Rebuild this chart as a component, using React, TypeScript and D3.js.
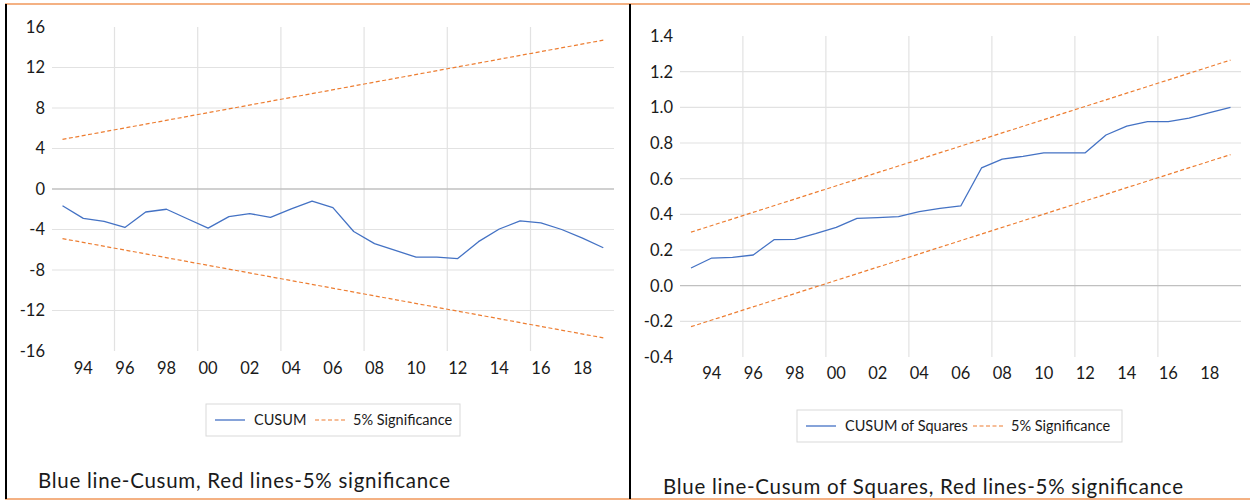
import React from "react";
import * as d3 from "d3";

// ---------- data ----------
const years = [
  1993, 1994, 1995, 1996, 1997, 1998, 1999, 2000, 2001, 2002, 2003, 2004, 2005,
  2006, 2007, 2008, 2009, 2010, 2011, 2012, 2013, 2014, 2015, 2016, 2017, 2018, 2019,
];
const yearLabels = [1994, 1996, 1998, 2000, 2002, 2004, 2006, 2008, 2010, 2012, 2014, 2016, 2018];

const cusum = [
  -1.65, -2.9, -3.2, -3.8, -2.27, -2.0, -2.94, -3.87, -2.73, -2.43, -2.8, -1.97, -1.2,
  -1.84, -4.2, -5.4, -6.07, -6.73, -6.73, -6.87, -5.2, -3.95, -3.15, -3.35, -4.0, -4.85, -5.8,
];
// 5% significance bounds (straight lines, start/end)
const cusumUpper: [number, number][] = [[1993, 4.9], [2019, 14.7]];
const cusumLower: [number, number][] = [[1993, -4.9], [2019, -14.7]];
const cusumTicks = [16, 12, 8, 4, 0, -4, -8, -12, -16];

const cusumSq = [
  0.099, 0.155, 0.159, 0.172, 0.258, 0.26, 0.292, 0.327, 0.377, 0.381, 0.387, 0.415, 0.433,
  0.447, 0.66, 0.71, 0.725, 0.745, 0.745, 0.745, 0.845, 0.895, 0.92, 0.92, 0.94, 0.97, 1.0,
];
const sqUpper: [number, number][] = [[1993, 0.3], [2019, 1.265]];
const sqLower: [number, number][] = [[1993, -0.23], [2019, 0.735]];
const sqTicks = [1.4, 1.2, 1.0, 0.8, 0.6, 0.4, 0.2, 0.0, -0.2, -0.4];

const gridYears = [1995.5, 1999.5, 2003.5, 2007.5, 2011.5, 2015.5];

// ---------- styles ----------
const FONT = "Lato, 'Open Sans', sans-serif";
const BLUE = "#4472C4";
const ORANGE = "#ED7D31";
const GRID = "#e2e2e2";
const ZERO = "#c0c0c0";
const TEXT = "#1a1a1a";

const locale = d3.formatLocale({
  decimal: ".",
  thousands: ",",
  grouping: [3],
  currency: ["", ""],
  minus: "-",
});

type PanelProps = {
  values: number[];
  upper: [number, number][];
  lower: [number, number][];
  ticks: number[];
  yDomain: [number, number];
  xRange: [number, number];
  yRange: [number, number];
  plotLeft: number;
  plotRight: number;
  labelRight: number;
  xLabelY: number;
  fmt: (v: number) => string;
  legend: { x: number; y: number; w: number; h: number; label: string; gap: number };
  caption: { x: number; y: number; text: string; len: number };
};

function Panel(p: PanelProps) {
  const x = d3.scaleLinear().domain([1993, 2019]).range(p.xRange);
  const y = d3.scaleLinear().domain(p.yDomain).range(p.yRange);
  const line = d3
    .line<[number, number]>()
    .x((d) => x(d[0]))
    .y((d) => y(d[1]));
  const series: [number, number][] = years.map((yr, i) => [yr, p.values[i]]);
  const top = y(p.yDomain[1]);
  const bottom = y(p.yDomain[0]);
  const lg = p.legend;
  const cy = lg.y + lg.h / 2;
  return (
    <g>
      {/* horizontal gridlines */}
      {p.ticks
        .filter((t) => t !== p.yDomain[0] && t !== p.yDomain[1] && t !== 0)
        .map((t) => (
          <line key={"h" + t} x1={p.plotLeft} x2={p.plotRight} y1={y(t)} y2={y(t)} stroke={GRID} strokeWidth={1.2} />
        ))}
      {/* vertical gridlines */}
      {gridYears.map((g) => (
        <line key={"v" + g} x1={x(g)} x2={x(g)} y1={top} y2={bottom} stroke={GRID} strokeWidth={1.2} />
      ))}
      {/* zero line */}
      <line x1={p.plotLeft} x2={p.plotRight} y1={y(0)} y2={y(0)} stroke={ZERO} strokeWidth={1.3} />
      {/* y tick labels */}
      {p.ticks.map((t) => (
        <text key={"yt" + t} x={p.labelRight} y={y(t)} dy="0.36em" textAnchor="end" fontSize={16.5} fill={TEXT} fontFamily={FONT}>
          {p.fmt(t)}
        </text>
      ))}
      {/* x tick labels */}
      {yearLabels.map((yr) => (
        <text key={"xt" + yr} x={x(yr)} y={p.xLabelY} dy="0.36em" textAnchor="middle" fontSize={16.5} fill={TEXT} fontFamily={FONT}>
          {String(yr).slice(2)}
        </text>
      ))}
      {/* bounds */}
      <path d={line(p.upper) || ""} fill="none" stroke={ORANGE} strokeWidth={1.2} strokeDasharray="4 2.5" />
      <path d={line(p.lower) || ""} fill="none" stroke={ORANGE} strokeWidth={1.2} strokeDasharray="4 2.5" />
      {/* series */}
      <path d={line(series) || ""} fill="none" stroke={BLUE} strokeWidth={1.3} strokeLinejoin="round" />
      {/* legend */}
      <rect x={lg.x} y={lg.y} width={lg.w} height={lg.h} fill="#fff" stroke="#d9d9d9" strokeWidth={1} />
      <line x1={lg.x + 9} x2={lg.x + 39} y1={cy} y2={cy} stroke={BLUE} strokeWidth={1.3} />
      <text x={lg.x + 48} y={cy} dy="0.35em" fontSize={14.5} fill={TEXT} fontFamily={FONT}>
        {lg.label}
      </text>
      <line x1={lg.x + lg.gap} x2={lg.x + lg.gap + 31} y1={cy} y2={cy} stroke={ORANGE} strokeWidth={1.2} strokeDasharray="4 2.5" />
      <text x={lg.x + lg.gap + 38} y={cy} dy="0.35em" fontSize={14.5} fill={TEXT} fontFamily={FONT}>
        5% Significance
      </text>
      {/* caption */}
      <text
        x={p.caption.x}
        y={p.caption.y}
        fontSize={20.5}
        fill={TEXT}
        fontFamily={FONT}
        textLength={p.caption.len}
        lengthAdjust="spacing"
      >
        {p.caption.text}
      </text>
    </g>
  );
}

export default function App() {
  return (
    <svg
      width={1250}
      height={502}
      style={{ position: "absolute", left: 0, top: 0, background: "#fff" }}
      xmlns="http://www.w3.org/2000/svg"
    >
      <rect x={0} y={0} width={1250} height={502} fill="#fff" />
      <Panel
        values={cusum}
        upper={cusumUpper}
        lower={cusumLower}
        ticks={cusumTicks}
        yDomain={[-16, 16]}
        xRange={[62.5, 603.3]}
        yRange={[351, 27]}
        plotLeft={52}
        plotRight={614}
        labelRight={45}
        xLabelY={368}
        fmt={(v) => locale.format("d")(v)}
        legend={{ x: 206, y: 404, w: 254, h: 32, label: "CUSUM", gap: 109 }}
        caption={{ x: 38, y: 488, text: "Blue line-Cusum, Red lines-5% significance", len: 412 }}
      />
      <Panel
        values={cusumSq}
        upper={sqUpper}
        lower={sqLower}
        ticks={sqTicks}
        yDomain={[-0.4, 1.4]}
        xRange={[691, 1230.5]}
        yRange={[357, 36]}
        plotLeft={680}
        plotRight={1241}
        labelRight={673}
        xLabelY={373}
        fmt={(v) => locale.format(".1f")(v)}
        legend={{ x: 797, y: 410, w: 325, h: 32, label: "CUSUM of Squares", gap: 176 }}
        caption={{ x: 663, y: 494, text: "Blue line-Cusum of Squares, Red lines-5% significance", len: 520 }}
      />
      {/* page borders */}
      <line x1={5} x2={1250} y1={4} y2={4} stroke="#F4B183" strokeWidth={2} />
      <line x1={5} x2={1250} y1={499} y2={499} stroke="#F4B183" strokeWidth={2} />
      <line x1={6} x2={6} y1={4} y2={499} stroke="#000" strokeWidth={2} />
      <line x1={630} x2={630} y1={4} y2={499} stroke="#000" strokeWidth={2} />
    </svg>
  );
}
